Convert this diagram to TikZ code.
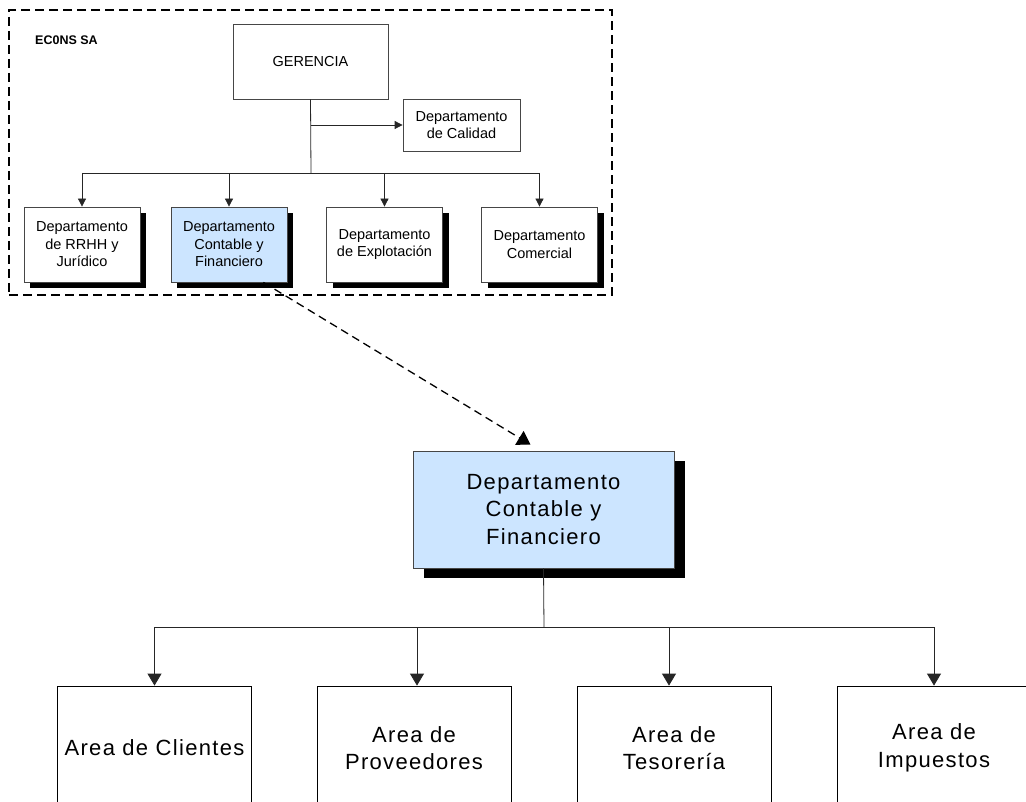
\documentclass[tikz,border=0pt]{standalone}
\usepackage{fontspec}
\setmainfont{Liberation Sans}
\newfontfamily\widesans[LetterSpace=6]{Liberation Sans}
\usetikzlibrary{arrows.meta,shadows}

\definecolor{deptblue}{RGB}{204,229,255}
\definecolor{edgegray}{RGB}{70,70,70}

\begin{document}
\begin{tikzpicture}[x=1pt,y=-1pt,
  box/.style={draw=edgegray, line width=0.8pt, fill=white, align=center,
    inner sep=0pt, font=\fontsize{14.5}{17.5}\selectfont},
  dept/.style={box, minimum width=116pt, minimum height=75pt,
    drop shadow={shadow xshift=6pt, shadow yshift=-6pt, opacity=1, fill=black}},
  bigdept/.style={box, fill=deptblue, minimum width=261pt, minimum height=117pt,
    font=\widesans\fontsize{22}{27.5}\selectfont,
    drop shadow={shadow xshift=11pt, shadow yshift=-10pt, opacity=1, fill=black}},
  area/.style={draw=black, line width=0.8pt, fill=white, align=center, inner sep=0pt,
    minimum width=194pt, minimum height=124pt,
    font=\widesans\fontsize{22}{27.5}\selectfont},
  link/.style={draw=black!85, line width=0.8pt},
  smallarrow/.style={link, -{Triangle[length=8pt,width=8pt]}},
  bigarrow/.style={link, -{Triangle[length=12pt,width=14pt]}},
  zoomarrow/.style={black, line width=1.3pt, dash pattern=on 8pt off 5pt,
    -{Triangle[length=13pt,width=16pt]}},
  orgframe/.style={draw=black, line width=1.6pt, dash pattern=on 9pt off 5pt,
    minimum width=603pt, minimum height=285pt, inner sep=0pt}
]
\useasboundingbox (0,0) rectangle (1026,802);

% company frame and title
\node[orgframe] (org) at (310.5,152.5) {};
\node[anchor=west, inner sep=0pt, font=\bfseries\fontsize{12.5}{14}\selectfont]
  (company) at (35,40) {EC0NS SA};

% management level
\node[box, minimum width=155pt, minimum height=75pt] (ger) at (310.5,61.5) {GERENCIA};
\node[box, minimum width=117pt, minimum height=52pt] (cal) at (461.5,125)
  {Departamento\\de Calidad};

% departments
\node[dept] (d1) at (82,244.5) {Departamento\\de RRHH y\\Jurídico};
\node[dept, fill=deptblue] (d2) at (229,244.5) {Departamento\\Contable y\\Financiero};
\node[dept] (d3) at (384.5,244.5) {Departamento\\de Explotación};
\node[dept] (d4) at (539.5,244.5) {Departamento\\Comercial};

% upper connectors
\coordinate (bus1) at (311,173);
\draw[link] (ger.south) -- (bus1);
\draw[smallarrow] (ger.south |- cal.west) -- (cal.west);
\draw[link] (d1.north |- bus1) -- (d4.north |- bus1);
\foreach \d in {d1,d2,d3,d4}
  \draw[smallarrow] (\d.north |- bus1) -- (\d.north);

% detailed department
\node[bigdept] (big) at (543.5,509.5) {Departamento\\Contable y\\Financiero};

\coordinate (src) at ([xshift=-24pt]d2.south east);
\coordinate (dst) at ([xshift=-13pt, yshift=6pt]big.north);
\draw[zoomarrow] (src) -- (dst);

% areas
\node[area] (a1) at (154.5,748) {Area de Clientes};
\node[area] (a2) at (414,748) {Area de\\Proveedores};
\node[area] (a3) at (674,748) {Area de\\Tesorería};
\node[area] (a4) at (934,748) {Area de\\Impuestos};

% lower connectors
\coordinate (bus2) at (544,627);
\coordinate (t1) at (154.5,627);
\coordinate (t2) at (417,627);
\coordinate (t3) at (669,627);
\coordinate (t4) at (934,627);
\draw[link] (big.south) -- (bus2);
\draw[link] (t1) -- (t4);
\draw[bigarrow] (t1) -- (t1 |- a1.north);
\draw[bigarrow] (t2) -- (t2 |- a2.north);
\draw[bigarrow] (t3) -- (t3 |- a3.north);
\draw[bigarrow] (t4) -- (t4 |- a4.north);
\end{tikzpicture}
\end{document}
